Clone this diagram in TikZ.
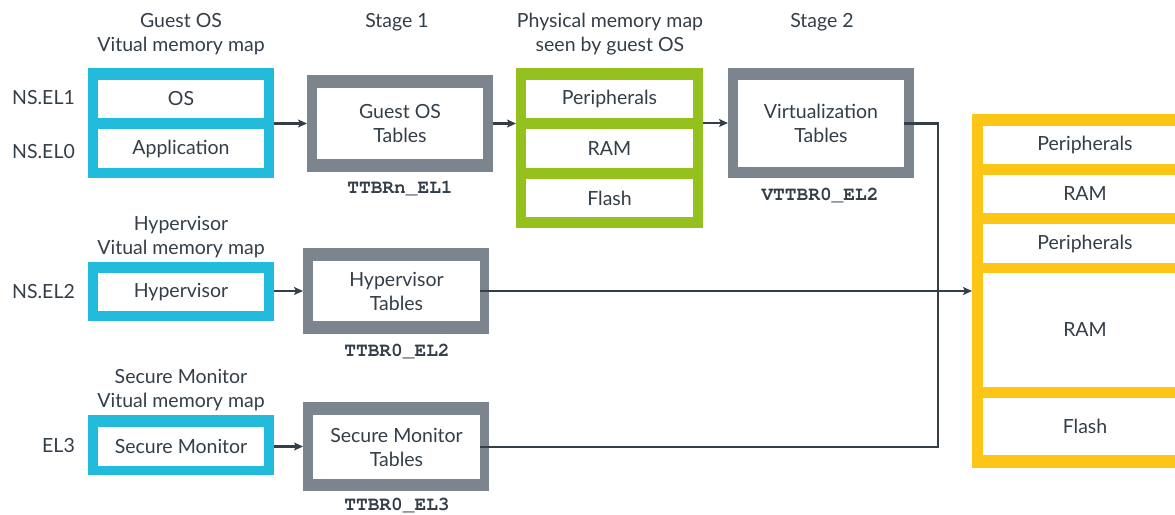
\documentclass[tikz,border=0pt]{standalone}
\usepackage{fontspec}
\setmainfont{Lato}
\newfontfamily\monof{TeX Gyre Cursor}
\usetikzlibrary{arrows.meta}
\definecolor{cblue}{HTML}{22BBDB}
\definecolor{cgray}{HTML}{7C858D}
\definecolor{cgreen}{HTML}{94C11E}
\definecolor{cyell}{HTML}{FDC515}
\definecolor{ctext}{HTML}{333E48}
\newcommand{\lfont}{\fontsize{19.5}{24}\selectfont}
\newcommand{\mfont}{\monof\bfseries\fontsize{19.5}{22}\selectfont}
\begin{document}
\begin{tikzpicture}[x=1pt,y=-1pt,
  bx/.style={rectangle, inner sep=0pt, outer sep=0pt},
  cell/.style={bx, fill=white, text=ctext, font=\lfont, align=center},
  lbl/.style={text=ctext, font=\lfont, align=center, inner sep=0pt},
  reg/.style={text=ctext, font=\mfont, inner sep=0pt},
  conn/.style={draw=ctext, line width=2.2pt},
  arr/.style={conn, -{Stealth[length=9pt,width=8pt,inset=2pt]}}]
\useasboundingbox (0,0) rectangle (1175,514);
\clip (0,0) rectangle (1175,514);

% headings
\node[lbl] (h1) at (181,34) {Guest OS\\Vitual memory map};
\node[lbl] (h2) at (397,22) {Stage 1};
\node[lbl] (h3) at (610,34) {Physical memory map\\seen by guest OS};
\node[lbl] (h4) at (822,22) {Stage 2};
\node[lbl] (h5) at (181,237) {Hypervisor\\Vitual memory map};
\node[lbl] (h6) at (181,390) {Secure Monitor\\Vitual memory map};

% level labels
\node[lbl, anchor=east] (l1) at (75,98) {NS.EL1};
\node[lbl, anchor=east] (l0) at (75,152) {NS.EL0};
\node[lbl, anchor=east] (l2) at (75,292) {NS.EL2};
\node[lbl, anchor=east] (l3) at (75,446) {EL3};

% guest OS virtual map
\node[bx, fill=cblue, minimum width=186pt, minimum height=110pt] (go) at (181,123) {};
\node[cell, minimum width=166pt, minimum height=38pt] (os) at (181,99) {OS};
\node[cell, minimum width=166pt, minimum height=39pt] (app) at (181,148.5) {Application};

% guest OS tables
\node[bx, fill=cgray, minimum width=186pt, minimum height=97pt] (t1) at (400,123.5) {};
\node[cell, minimum width=166pt, minimum height=71pt] (t1i) at (400,123.5) {Guest OS\\Tables};
\node[reg] (r1) at (400,188) {TTBRn\_EL1};

% physical map seen by guest
\node[bx, fill=cgreen, minimum width=187pt, minimum height=160pt] (pm) at (609.5,148) {};
\node[cell, minimum width=167pt, minimum height=38pt] (pm1) at (609.5,99) {Peripherals};
\node[cell, minimum width=167pt, minimum height=39pt] (pm2) at (609.5,148.5) {RAM};
\node[cell, minimum width=167pt, minimum height=38pt] (pm3) at (609.5,198) {Flash};

% virtualization tables
\node[bx, fill=cgray, minimum width=186pt, minimum height=110pt] (vt) at (821,123) {};
\node[cell, minimum width=166pt, minimum height=87pt] (vti) at (821,123.5) {Virtualization\\Tables};
\node[reg] (r2) at (820,195) {VTTBR0\_EL2};

% hypervisor
\node[bx, fill=cblue, minimum width=186pt, minimum height=59pt] (hv) at (181,291.5) {};
\node[cell, minimum width=166pt, minimum height=38pt] (hvc) at (181,292) {Hypervisor};
\node[bx, fill=cgray, minimum width=186pt, minimum height=86pt] (ht) at (396,291) {};
\node[cell, minimum width=167pt, minimum height=60pt] (hti) at (396.5,291) {Hypervisor\\Tables};
\node[reg] (r3) at (397,351) {TTBR0\_EL2};

% secure monitor
\node[bx, fill=cblue, minimum width=186pt, minimum height=60pt] (sm) at (181,445) {};
\node[cell, minimum width=166pt, minimum height=39pt] (smc) at (181,446.5) {Secure Monitor};
\node[bx, fill=cgray, minimum width=186pt, minimum height=89pt] (st) at (396,446.5) {};
\node[cell, minimum width=167pt, minimum height=64pt] (sti) at (396.5,447) {Secure Monitor\\Tables};
\node[reg] (r4) at (397,505) {TTBR0\_EL3};

% real physical memory map
\node[bx, fill=cyell, minimum width=226pt, minimum height=354pt] (ym) at (1085,291) {};
\node[cell, minimum width=204pt, minimum height=38pt] (y1) at (1085,145) {Peripherals};
\node[cell, minimum width=204pt, minimum height=38pt] (y2) at (1085,194) {RAM};
\node[cell, minimum width=204pt, minimum height=39pt] (y3) at (1085,243.5) {Peripherals};
\node[cell, minimum width=204pt, minimum height=114pt] (y4) at (1085,330) {RAM};
\node[cell, minimum width=204pt, minimum height=57pt] (y5) at (1085,426.5) {Flash};

% connectors
\coordinate (bus) at (938,0);
\draw[arr] (go.east |- t1) -- (t1.west);
\draw[arr] (t1.east) -- (t1.east -| pm.west);
\draw[arr] (vt.west -| pm.east) -- (vt.west);
\draw[arr] (hv.east |- ht) -- (ht.west);
\draw[arr] (sm.east |- st) -- (st.west);
\draw[conn] (vti.east) -| (bus |- sti.east) -- (sti.east);
\draw[arr] (hti.east) -- (hti.east -| ym.west);
\end{tikzpicture}
\end{document}
